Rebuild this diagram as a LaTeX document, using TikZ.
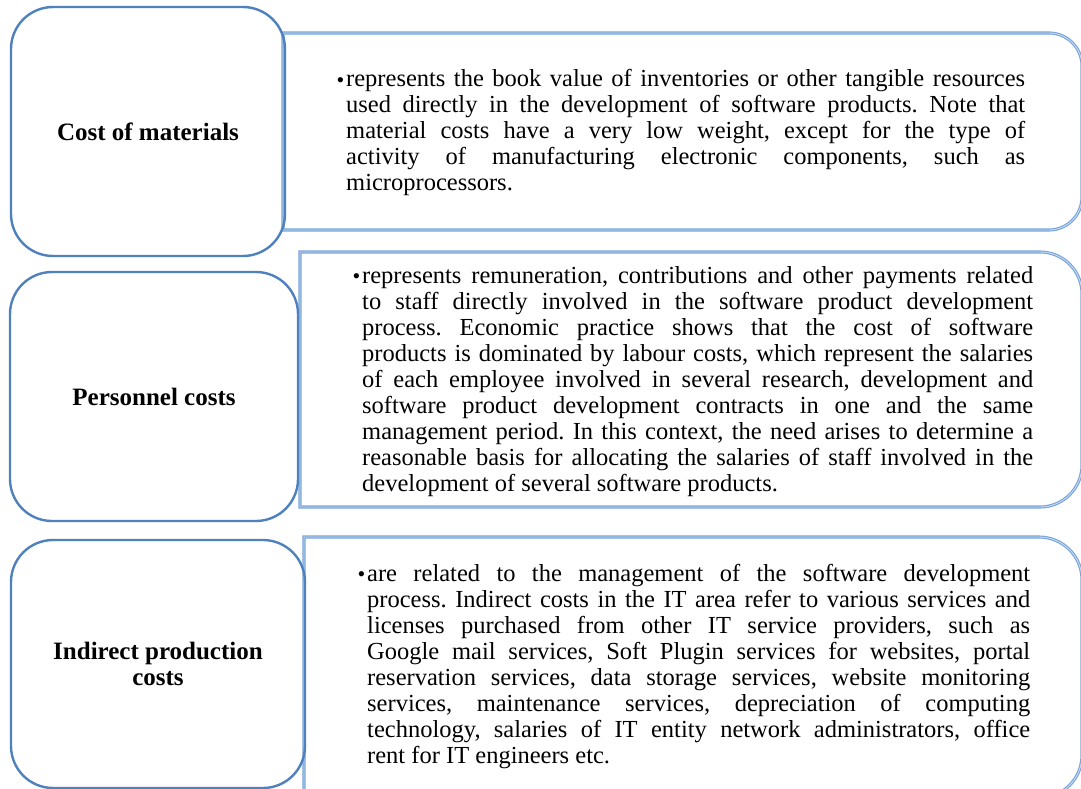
\documentclass[tikz,border=0pt]{standalone}
\usepackage{fontspec}
\setmainfont{Liberation Serif}
\definecolor{lblue}{RGB}{79,129,189}
\definecolor{rblue}{RGB}{120,164,216}
\definecolor{rblueln}{RGB}{196,218,242}
\newcommand\jl[1]{\makebox[\linewidth][s]{#1}\\}
\newcommand\bul{\leavevmode\llap{\raisebox{-0.5pt}{\fontsize{22}{22}\selectfont\textbullet}\hspace{2pt}}}
\tikzset{
  lbox/.style={draw=lblue, line width=2.4pt, rounded corners=42pt, inner sep=0pt,
    font=\fontsize{25}{26}\selectfont\bfseries, align=center},
  rbox/.style={draw=rblue, double=rblueln, double distance=0.9pt, line width=1.1pt},
  btext/.style={anchor=base west, inner sep=0pt, font=\fontsize{24.5}{26}\selectfont\frenchspacing}
}
\begin{document}
\begin{tikzpicture}[x=1pt,y=1pt]
\useasboundingbox (0,0) rectangle (1081,-789);
\begin{scope}
\clip (0,0) rectangle (1081,-789);
% right boxes
\draw[rbox] (283,-33) -- (1049,-33) arc[start angle=90,end angle=0,radius=33]
  -- (1082,-197) arc[start angle=0,end angle=-90,radius=33] -- (283,-230) -- cycle;
\draw[rbox] (300,-252) -- (1040,-252) arc[start angle=90,end angle=0,radius=42]
  -- (1082,-465) arc[start angle=0,end angle=-90,radius=42] -- (300,-507) -- cycle;
\draw[rbox] (304,-537) -- (1039,-537) arc[start angle=90,end angle=0,radius=43]
  -- (1082,-755) arc[start angle=0,end angle=-90,radius=43] -- (304,-798) -- cycle;
\end{scope}
% left boxes
\node[lbox, minimum width=274pt, minimum height=249pt] (l1) at (148,-131.5) {Cost of materials};
\node[lbox, minimum width=288pt, minimum height=249pt] (l2) at (154,-396.5) {Personnel costs};
\node[lbox, minimum width=294pt, minimum height=248pt] (l3) at (158,-664) {Indirect production\\costs};
% texts
\node[btext] (t1) at (346,-87) {\parbox[t]{679pt}{%
\bul\jl{represents the book value of inventories or other tangible resources}
\jl{used directly in the development of software products. Note that}
\jl{material costs have a very low weight, except for the type of}
\jl{activity of manufacturing electronic components, such as}
microprocessors.}};
\node[btext] (t2) at (362,-283) {\parbox[t]{671pt}{%
\bul\jl{represents remuneration, contributions and other payments related}
\jl{to staff directly involved in the software product development}
\jl{process. Economic practice shows that the cost of software}
\jl{products is dominated by labour costs, which represent the salaries}
\jl{of each employee involved in several research, development and}
\jl{software product development contracts in one and the same}
\jl{management period. In this context, the need arises to determine a}
\jl{reasonable basis for allocating the salaries of staff involved in the}
development of several software products.}};
\node[btext] (t3) at (367,-581) {\parbox[t]{663pt}{%
\bul\jl{are related to the management of the software development}
\jl{process. Indirect costs in the IT area refer to various services and}
\jl{licenses purchased from other IT service providers, such as}
\jl{Google mail services, Soft Plugin services for websites, portal}
\jl{reservation services, data storage services, website monitoring}
\jl{services, maintenance services, depreciation of computing}
\jl{technology, salaries of IT entity network administrators, office}
rent for IT engineers etc.}};
\end{tikzpicture}
\end{document}
